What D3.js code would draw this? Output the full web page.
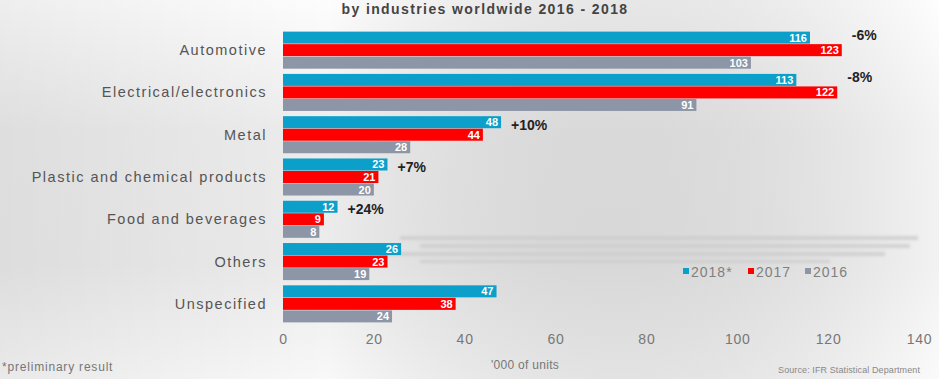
<!DOCTYPE html>
<html>
<head>
<meta charset="utf-8">
<script src="https://cdn.jsdelivr.net/npm/d3@7"></script>
<style>
  html, body { margin: 0; padding: 0; background: #fff; }
  svg { display: block; font-family: Arial, "Liberation Sans", sans-serif; }
</style>
</head>
<body>
<svg id="chart" width="939" height="379"></svg>
<script>
// Industrial robot installations by industry, '000 of units
const categories = ["Automotive", "Electrical/electronics", "Metal", "Plastic and chemical products", "Food and beverages", "Others", "Unspecified"];
const seriesNames = ["2018*", "2017", "2016"];
const values2018 = [116, 113, 48, 23, 12, 26, 47];
const values2017 = [123, 122, 44, 21, 9, 23, 38];
const values2016 = [103, 91, 28, 20, 8, 19, 24];
const growth = ["-6%", "-8%", "+10%", "+7%", "+24%", "", ""];
const xTicks = [0, 20, 40, 60, 80, 100, 120, 140];
const colors = ["#0b9fc9", "#fe0000", "#8d96a6"];

const svg = d3.select("#chart");
const W = 939, H = 379;

// background wash
const defs = svg.append("defs");
const gv = defs.append("linearGradient").attr("id", "bgV").attr("x1", 0).attr("y1", 0).attr("x2", 0).attr("y2", 1);
gv.append("stop").attr("offset", 0).attr("stop-color", "#fdfdfd");
gv.append("stop").attr("offset", 0.35).attr("stop-color", "#ececec");
gv.append("stop").attr("offset", 0.7).attr("stop-color", "#ebebeb");
gv.append("stop").attr("offset", 1).attr("stop-color", "#f8f8f8");
const gh = defs.append("linearGradient").attr("id", "bgH").attr("x1", 0).attr("y1", 0).attr("x2", 1).attr("y2", 0);
gh.append("stop").attr("offset", 0).attr("stop-color", "#000").attr("stop-opacity", 0.06);
gh.append("stop").attr("offset", 0.35).attr("stop-color", "#000").attr("stop-opacity", 0.0);
gh.append("stop").attr("offset", 1).attr("stop-color", "#fff").attr("stop-opacity", 0.35);
defs.append("filter").attr("id", "soft").append("feGaussianBlur").attr("stdDeviation", 1.8);

svg.append("rect").attr("width", W).attr("height", H).attr("fill", "url(#bgV)");
svg.append("rect").attr("width", W).attr("height", H).attr("fill", "url(#bgH)");

// title along the top edge
svg.append("text").attr("x", 485).attr("y", 14).attr("text-anchor", "middle")
  .attr("font-size", 14).attr("font-weight", "bold").attr("letter-spacing", 1.4).attr("fill", "#444")
  .text("by industries worldwide 2016 - 2018");

const x = d3.scaleLinear().domain([0, 140]).range([283, 919]);
const y = d3.scaleBand().domain(categories).range([29, 325]).paddingInner(0.1).paddingOuter(0.05);
const ySub = d3.scaleBand().domain(seriesNames).range([0, y.bandwidth()]).padding(0.04);

// faint streaks behind the Others row
const streaks = [[400, 918, 236, 4], [420, 910, 244, 4], [380, 885, 252, 4], [420, 830, 260, 3]];
svg.append("g").attr("filter", "url(#soft)").selectAll("rect").data(streaks).join("rect")
  .attr("x", d => d[0]).attr("width", d => d[1] - d[0]).attr("y", d => d[2]).attr("height", d => d[3])
  .attr("fill", "#cccccc").attr("opacity", 0.85);

const rows = categories.map((c, i) => ({
  cat: c,
  vals: [values2018[i], values2017[i], values2016[i]],
  growth: growth[i]
}));

const g = svg.append("g");
const groups = g.selectAll("g.row").data(rows).join("g")
  .attr("class", "row").attr("transform", d => `translate(0,${y(d.cat)})`);

groups.selectAll("rect").data(d => d.vals.map((v, k) => ({ v, k }))).join("rect")
  .attr("x", x(0)).attr("y", d => ySub(seriesNames[d.k]))
  .attr("width", d => x(d.v) - x(0)).attr("height", ySub.bandwidth())
  .attr("fill", d => colors[d.k]);

groups.selectAll("text.val").data(d => d.vals.map((v, k) => ({ v, k }))).join("text")
  .attr("class", "val")
  .attr("x", d => x(d.v) - 3).attr("y", d => ySub(seriesNames[d.k]) + ySub.bandwidth() / 2 + 4)
  .attr("text-anchor", "end").attr("font-size", 11).attr("font-weight", "bold").attr("fill", "#fff")
  .text(d => d.v);

groups.filter(d => d.growth).append("text")
  .attr("x", d => x(Math.max(d.vals[0], d.vals[1])) + 10)
  .attr("y", d => d.vals[1] > d.vals[0] ? ySub("2018*") + ySub.bandwidth() / 2 + 2 : ySub("2017") + 1)
  .attr("font-size", 14).attr("font-weight", "bold").attr("fill", "#222")
  .text(d => d.growth);

// category labels
svg.append("g").selectAll("text").data(categories).join("text")
  .attr("x", 267).attr("y", d => y(d) + y.bandwidth() / 2 + 5)
  .attr("text-anchor", "end").attr("font-size", 14.5).attr("letter-spacing", 1.5).attr("fill", "#555")
  .text(d => d);

// x axis labels
const xAxis = d3.axisBottom(x).tickValues(xTicks).tickSize(0).tickPadding(0);
const ax = svg.append("g").attr("transform", "translate(0,334)").call(xAxis);
ax.select(".domain").remove();
ax.selectAll("text").attr("font-size", 14).attr("letter-spacing", 0.8).attr("fill", "#777")
  .attr("font-family", "Arial, 'Liberation Sans', sans-serif");

// legend
const legend = svg.append("g").attr("transform", "translate(683,272)");
const legX = [0, 65, 122];
seriesNames.forEach((s, i) => {
  legend.append("rect").attr("x", legX[i]).attr("y", -4).attr("width", 6).attr("height", 6).attr("fill", colors[i]);
  legend.append("text").attr("x", legX[i] + 8).attr("y", 1).attr("dominant-baseline", "middle")
    .attr("font-size", 14).attr("letter-spacing", 1).attr("fill", "#808080").text(s);
});

// footer
svg.append("text").attr("x", 2).attr("y", 371).attr("font-size", 12).attr("letter-spacing", 0.8).attr("fill", "#777").text("*preliminary result");
svg.append("text").attr("x", 525).attr("y", 369).attr("text-anchor", "middle").attr("font-size", 12).attr("letter-spacing", 0.3).attr("fill", "#777").text("'000 of units");
svg.append("text").attr("x", 920).attr("y", 373).attr("text-anchor", "end").attr("font-size", 9).attr("letter-spacing", 0.1).attr("fill", "#888").text("Source: IFR Statistical Department");
</script>
</body>
</html>
